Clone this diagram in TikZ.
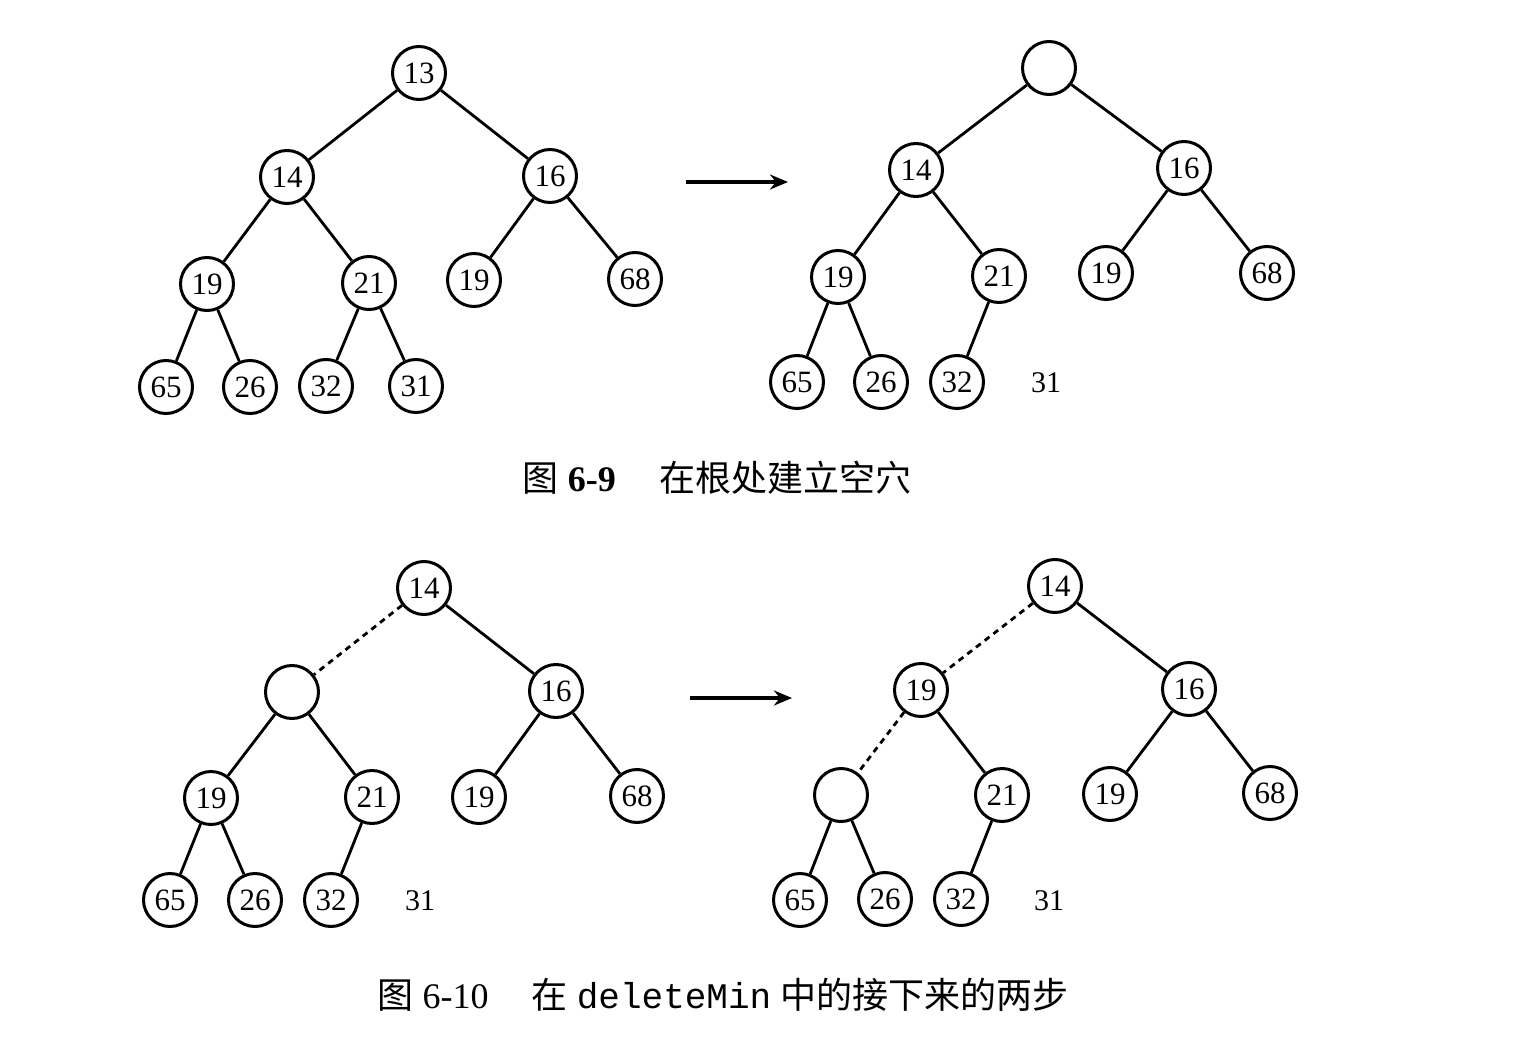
\documentclass[tikz,border=0pt]{standalone}
\usepackage{fontspec}
\setmainfont{Liberation Serif}
\setmonofont{Liberation Mono}
\newfontfamily\cjk{Noto Sans CJK SC}
\usetikzlibrary{arrows.meta}
\begin{document}
\begin{tikzpicture}[x=1pt,y=-1pt,
  hn/.style={circle,draw,line width=3pt,minimum size=53pt,inner sep=0pt,font=\fontsize{31}{34}\selectfont},
  lbl/.style={inner sep=0pt,font=\fontsize{30}{34}\selectfont},
  edge/.style={line width=2.8pt},
  dedge/.style={line width=2.8pt,dash pattern=on 6pt off 5pt},
  arr/.style={line width=3.2pt,-{Stealth[length=18pt,width=15pt]}},
  captext/.style={inner sep=0pt,font=\fontsize{36}{40}\selectfont}]
\useasboundingbox (0,0) rectangle (1540,1038);
% ---------- tree 1 ----------
\node[hn] (a13) at (419,73) {13};
\node[hn] (a14) at (287,177) {14};
\node[hn] (a16) at (550,176) {16};
\node[hn] (a19) at (207,284) {19};
\node[hn] (a21) at (369,283) {21};
\node[hn] (a19b) at (474,280) {19};
\node[hn] (a68) at (635,279) {68};
\node[hn] (a65) at (166,387) {65};
\node[hn] (a26) at (250,387) {26};
\node[hn] (a32) at (326,386) {32};
\node[hn] (a31) at (416,386) {31};
\draw[edge] (a13)--(a14) (a13)--(a16) (a14)--(a19) (a14)--(a21) (a16)--(a19b) (a16)--(a68)
  (a19)--(a65) (a19)--(a26) (a21)--(a32) (a21)--(a31);
% arrow 1
\coordinate (r1s) at (686,182);
\coordinate (r1e) at (788,182);
\draw[arr] (r1s)--(r1e);
% ---------- tree 2 ----------
\node[hn] (b0) at (1049,68) {};
\node[hn] (b14) at (916,170) {14};
\node[hn] (b16) at (1184,168) {16};
\node[hn] (b19) at (838,277) {19};
\node[hn] (b21) at (999,276) {21};
\node[hn] (b19b) at (1106,273) {19};
\node[hn] (b68) at (1267,273) {68};
\node[hn] (b65) at (797,382) {65};
\node[hn] (b26) at (881,382) {26};
\node[hn] (b32) at (957,382) {32};
\node[lbl] (b31) at (1046,383) {31};
\draw[edge] (b0)--(b14) (b0)--(b16) (b14)--(b19) (b14)--(b21) (b16)--(b19b) (b16)--(b68)
  (b19)--(b65) (b19)--(b26) (b21)--(b32);
% caption 1
\node[captext] (c1) at (717,478) {{\cjk 图} \textbf{6-9}\hspace{1.2em}{\cjk 在根处建立空穴}};
% ---------- tree 3 ----------
\node[hn] (c14) at (424,588) {14};
\node[hn] (c0) at (292,692) {};
\node[hn] (c16) at (556,691) {16};
\node[hn] (c19) at (211,798) {19};
\node[hn] (c21) at (372,797) {21};
\node[hn] (c19b) at (479,797) {19};
\node[hn] (c68) at (637,796) {68};
\node[hn] (c65) at (170,900) {65};
\node[hn] (c26) at (255,900) {26};
\node[hn] (c32) at (331,900) {32};
\node[lbl] (c31) at (420,901) {31};
\draw[dedge] (c14)--(c0);
\draw[edge] (c14)--(c16) (c0)--(c19) (c0)--(c21) (c16)--(c19b) (c16)--(c68)
  (c19)--(c65) (c19)--(c26) (c21)--(c32);
% arrow 2
\coordinate (r2s) at (690,698);
\coordinate (r2e) at (792,698);
\draw[arr] (r2s)--(r2e);
% ---------- tree 4 ----------
\node[hn] (d14) at (1055,586) {14};
\node[hn] (d19) at (921,690) {19};
\node[hn] (d16) at (1189,689) {16};
\node[hn] (d0) at (841,795) {};
\node[hn] (d21) at (1002,795) {21};
\node[hn] (d19b) at (1110,794) {19};
\node[hn] (d68) at (1270,793) {68};
\node[hn] (d65) at (800,900) {65};
\node[hn] (d26) at (885,899) {26};
\node[hn] (d32) at (961,899) {32};
\node[lbl] (d31) at (1049,901) {31};
\draw[dedge] (d14)--(d19) (d19)--(d0);
\draw[edge] (d14)--(d16) (d19)--(d21) (d16)--(d19b) (d16)--(d68)
  (d0)--(d65) (d0)--(d26) (d21)--(d32);
% caption 2
\node[captext] (c2) at (723,995) {{\cjk 图} 6-10\hspace{1.2em}{\cjk 在} {\ttfamily deleteMin} {\cjk 中的接下来的两步}};
\end{tikzpicture}
\end{document}
